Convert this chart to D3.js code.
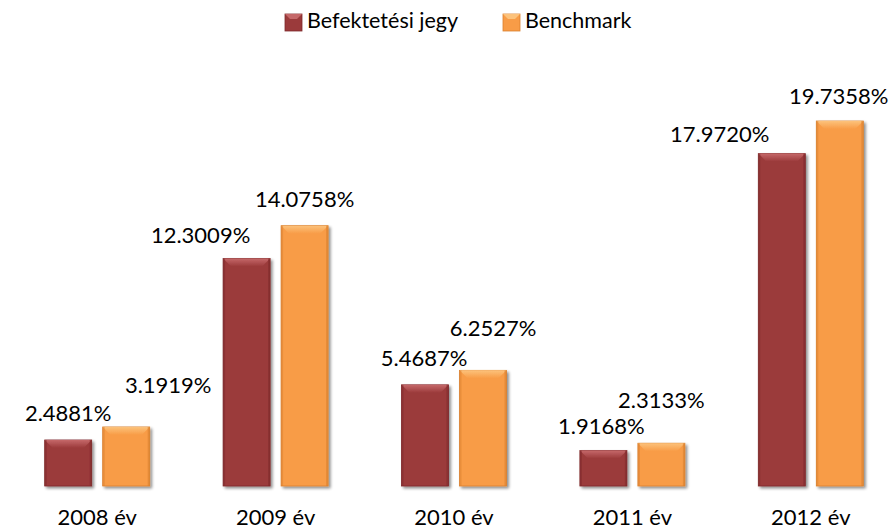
<!DOCTYPE html>
<html>
<head>
<meta charset="utf-8">
<script src="https://cdn.jsdelivr.net/npm/d3@7"></script>
<style>
  body { margin: 0; background: #fff; }
  svg { display: block; font-family: Lato, "Open Sans", sans-serif; }
</style>
</head>
<body>
<svg id="chart" width="890" height="529"></svg>
<script>
// Data
const years = ['2008 év', '2009 év', '2010 év', '2011 év', '2012 év'];
const seriesNames = ['Befektetési jegy', 'Benchmark'];
const fund = [2.4881, 12.3009, 5.4687, 1.9168, 17.9720];
const benchmark = [3.1919, 14.0758, 6.2527, 2.3133, 19.7358];

// Manual label nudges (dx from bar centre, gap above bar top), like the Excel original
const fundLabelNudge = [[0, 19], [-46, 16], [-1, 19], [-2, 17], [-62, 12]];
const benchLabelNudge = [[42, 34], [0, 19], [10, 34], [0, 35], [-1, 17]];

/**
 * Visual configs.
 */
const svg = d3.select('#chart');
const colors = [
    { base: '#9b3a3b', light: '#c56869', dark: '#7e2a2b' },
    { base: '#f89c47', light: '#fcc27b', dark: '#d9802f' }
];
const baseline = 486;

const x = d3.scaleBand().domain(years).range([8, 900]).paddingInner(0).paddingOuter(0);
const y = d3.scaleLinear().domain([0, 19.7358]).range([baseline, 121]);
const barW = 47, barGap = 11;

// Drop shadow
const defs = svg.append('defs');
const shadow = defs.append('filter').attr('id', 'shadow')
    .attr('x', '-20%').attr('y', '-20%').attr('width', '150%').attr('height', '150%');
shadow.append('feGaussianBlur').attr('in', 'SourceAlpha').attr('stdDeviation', 1.5).attr('result', 'b');
shadow.append('feOffset').attr('in', 'b').attr('dx', 2).attr('dy', 2).attr('result', 'o');
shadow.append('feComponentTransfer').attr('in', 'o').attr('result', 's')
    .append('feFuncA').attr('type', 'linear').attr('slope', 0.45);
const merge = shadow.append('feMerge');
merge.append('feMergeNode').attr('in', 's');
merge.append('feMergeNode').attr('in', 'SourceGraphic');

// Top bevel gradients
colors.forEach((c, i) => {
    const grad = defs.append('linearGradient').attr('id', 'bevel' + i)
        .attr('x1', 0).attr('y1', 0).attr('x2', 0).attr('y2', 1);
    grad.append('stop').attr('offset', '0%').attr('stop-color', c.light);
    grad.append('stop').attr('offset', '100%').attr('stop-color', c.base);
});

// Axis line
svg.append('line')
    .attr('x1', 8).attr('x2', 876).attr('y1', baseline + 1).attr('y2', baseline + 1)
    .attr('stroke', '#8c8c8c').attr('stroke-width', 2).attr('filter', 'url(#shadow)');

// Bars
const series = [fund, benchmark];
const nudges = [fundLabelNudge, benchLabelNudge];

series.forEach((values, si) => {
    const g = svg.append('g').attr('class', 'series-' + si);
    const c = colors[si];
    const bars = g.selectAll('g.bar').data(values).enter().append('g')
        .attr('class', 'bar')
        .attr('filter', 'url(#shadow)')
        .attr('transform', (d, i) => {
            const cx = x(years[i]) + x.bandwidth() / 2;
            const left = si === 0 ? cx - barGap / 2 - barW : cx + barGap / 2;
            return 'translate(' + left + ',' + y(d) + ')';
        });

    bars.append('rect')
        .attr('width', barW)
        .attr('height', d => baseline - y(d))
        .attr('fill', c.base)
        .attr('stroke', c.dark).attr('stroke-width', 0.8);

    // Bevel: lighter top, darker sides
    const bev = 8;
    bars.append('path')
        .attr('d', 'M0,0 L' + barW + ',0 L' + (barW - bev) + ',' + bev + ' L' + bev + ',' + bev + ' Z')
        .attr('fill', 'url(#bevel' + si + ')');
    bars.append('rect')
        .attr('x', 0).attr('y', 0).attr('width', 2)
        .attr('height', d => baseline - y(d))
        .attr('fill', c.dark).attr('opacity', 0.5);
    bars.append('rect')
        .attr('x', barW - 2).attr('y', 0).attr('width', 2)
        .attr('height', d => baseline - y(d))
        .attr('fill', c.dark).attr('opacity', 0.6);

    // Value labels
    g.selectAll('text.value').data(values).enter().append('text')
        .attr('class', 'value')
        .attr('text-anchor', 'middle')
        .attr('font-size', 22)
        .attr('fill', '#000')
        .attr('x', (d, i) => {
            const cx = x(years[i]) + x.bandwidth() / 2;
            const bc = si === 0 ? cx - barGap / 2 - barW / 2 : cx + barGap / 2 + barW / 2;
            return bc + nudges[si][i][0];
        })
        .attr('y', (d, i) => y(d) - nudges[si][i][1])
        .text(d => d.toFixed(4) + '%');
});

// Category labels
svg.append('g').selectAll('text').data(years).enter().append('text')
    .attr('x', d => x(d) + x.bandwidth() / 2)
    .attr('y', 525)
    .attr('text-anchor', 'middle')
    .attr('font-size', 22)
    .text(d => d);

// Legend
const legend = svg.append('g').attr('class', 'legend');
const legendX = [285, 503];
seriesNames.forEach((name, i) => {
    const lg = legend.append('g').attr('transform', 'translate(' + legendX[i] + ',14)');
    lg.append('rect').attr('width', 17).attr('height', 17).attr('fill', colors[i].base)
        .attr('stroke', colors[i].dark).attr('stroke-width', 0.8);
    lg.append('path').attr('d', 'M0,0 L17,0 L12,5 L5,5 Z').attr('fill', colors[i].light);
    lg.append('text').attr('x', 22).attr('y', 14).attr('font-size', 21.5).text(name);
});
</script>
</body>
</html>
